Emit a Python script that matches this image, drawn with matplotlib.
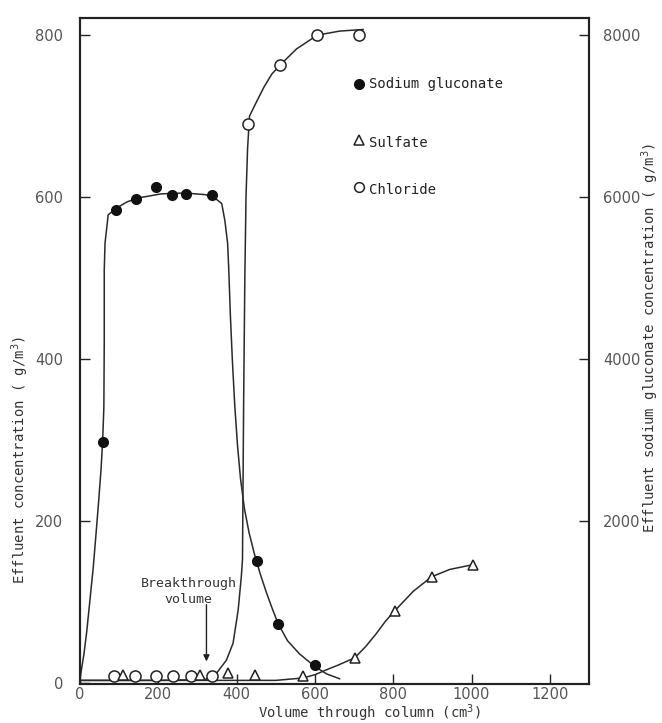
import matplotlib.pyplot as plt

plt.rcParams['font.family'] = 'DejaVu Sans Mono'

# measured points (left axis units, g/m3 ; x in cm3)
gluc_x = [60, 92, 142, 194, 235, 271, 336, 451, 506, 600]
gluc_y = [298, 584, 597, 613, 603, 604, 602, 151, 73, 22]

chl_x = [87, 141, 194, 238, 283, 336, 430, 510, 605, 712]
chl_y = [9, 9, 8, 8, 9, 8, 690, 763, 800, 800]

sul_x = [110, 306, 377, 447, 570, 702, 804, 898, 1004]
sul_y = [10, 10, 12, 10, 9, 31, 89, 131, 146]

# hand drawn fitted curves
gluc_cx = [0, 10, 17, 25, 34, 42, 48, 54, 58, 61, 62, 62, 64, 72, 92, 120, 150, 208, 268,
           320, 344, 362, 370, 377, 380, 384, 389, 395, 402, 410, 420, 432, 445, 460, 475,
           490, 506, 530, 560, 600, 630, 663]
gluc_cy = [5, 35, 62, 100, 143, 190, 226, 265, 300, 340, 420, 510, 543, 578, 586, 594, 599,
           604, 605, 603, 599, 592, 571, 543, 510, 455, 400, 345, 295, 252, 215, 185, 160,
           135, 113, 93, 73, 52, 36, 20, 11, 5]

chl_cx = [0, 200, 320, 349, 374, 391, 404, 412, 415, 418, 421, 424, 428, 433, 445, 470,
          490, 511, 553, 606, 663, 723]
chl_cy = [3, 3, 4, 12, 28, 49, 90, 131, 152, 350, 500, 600, 660, 700, 712, 736, 752, 763,
          783, 800, 805, 807]

sul_cx = [0, 300, 500, 570, 600, 629, 660, 702, 730, 757, 780, 804, 851, 898, 944, 1004]
sul_cy = [3, 3, 3, 6, 10, 16, 22, 31, 45, 61, 76, 89, 113, 131, 140, 146]

x_ticks = [0, 200, 400, 600, 800, 1000, 1200]
y_ticks = [0, 200, 400, 600, 800]
y2_ticks = [2000, 4000, 6000, 8000]

fig = plt.figure(figsize=(6.62, 7.23), dpi=100)
ax = fig.add_axes([0.1208, 0.0539, 0.769, 0.921])

line_c = '#2a2a2a'
ax.plot(gluc_cx, gluc_cy, color=line_c, lw=1.1)
ax.plot(chl_cx, chl_cy, color=line_c, lw=1.1)
ax.plot(sul_cx, sul_cy, color=line_c, lw=1.1)

ax.plot(gluc_x, gluc_y, 'o', color='#111111', ms=7, ls='none')
ax.plot(chl_x, chl_y, 'o', mfc='white', mec='#222222', mew=1.1, ms=8, ls='none')
ax.plot(sul_x, sul_y, '^', mfc='white', mec='#222222', mew=1.1, ms=7, ls='none')

# in-plot legend
ax.plot([712], [740], 'o', color='#111111', ms=7)
ax.plot([712], [671], '^', mfc='white', mec='#222222', mew=1.1, ms=6.5)
ax.plot([712], [613], 'o', mfc='white', mec='#222222', mew=1.1, ms=7)
ax.text(738, 740, 'Sodium gluconate', fontsize=10, va='center', color='#222222')
ax.text(738, 667, 'Sulfate', fontsize=10, va='center', color='#222222')
ax.text(738, 609, 'Chloride', fontsize=10, va='center', color='#222222')

# breakthrough annotation
ax.text(278, 113, 'Breakthrough\nvolume', fontsize=9.5, ha='center', va='center',
        multialignment='center', linespacing=1.25, color='#333333')
ax.annotate('', xy=(323, 23), xytext=(323, 100),
            arrowprops=dict(arrowstyle='-|>', color='#222222', lw=1, mutation_scale=9))

ax.set_xlim(0, 1300)
ax.set_ylim(-1.5, 821)
ax.set_xticks(x_ticks)
ax.set_yticks(y_ticks)
ax.tick_params(direction='in', length=7, width=1, colors='#222222',
               labelcolor='#555555', labelsize=10.5)
ax.tick_params(axis='x', pad=2)
ax.tick_params(axis='y', pad=12)
for lab in ax.get_xticklabels() + ax.get_yticklabels():
    lab.set_family('DejaVu Sans')

ax2 = ax.twinx()
ax2.set_ylim(-15, 8210)
ax2.set_yticks(y2_ticks)
ax2.tick_params(direction='in', length=7, width=1, colors='#222222',
                labelcolor='#555555', labelsize=10.5, pad=10)
for lab in ax2.get_yticklabels():
    lab.set_family('DejaVu Sans')

for a in (ax, ax2):
    for s in a.spines.values():
        s.set_linewidth(1.5)
        s.set_color('#222222')

fig.text(20 / 662, 1 - 460 / 723, 'Effluent concentration ( g/m$^3$)', rotation=90,
         ha='center', va='center', fontsize=10, color='#333333')
fig.text(650 / 662, 1 - 338 / 723, 'Effluent sodium gluconate concentration ( g/m$^3$)',
         rotation=90, ha='center', va='center', fontsize=10, color='#333333')
fig.text(370 / 662, 1 - 713 / 723, 'Volume through column (cm$^3$)', ha='center',
         va='center', fontsize=10, color='#333333')

fig.savefig('out.png', dpi=100)
